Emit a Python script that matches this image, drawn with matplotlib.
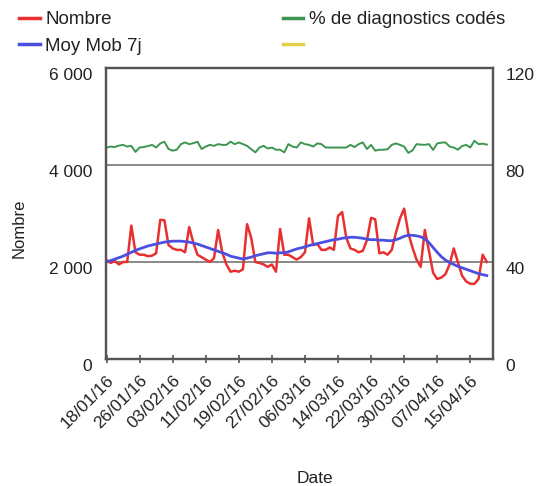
import matplotlib
matplotlib.use("Agg")
import matplotlib.pyplot as plt
import matplotlib.dates as mdates
from matplotlib.lines import Line2D
from matplotlib.ticker import FuncFormatter
import pandas as pd

plt.rcParams['font.family'] = ['Liberation Sans', 'DejaVu Sans']

# daily series, 18/01/16 onwards
start_date = "2016-01-18"
nombre = [
    2040, 1980, 2020, 1950, 2000, 2000, 2750, 2200, 2150, 2150,
    2120, 2130, 2180, 2870, 2860, 2350, 2280, 2250, 2250, 2200,
    2720, 2400, 2150, 2100, 2050, 2000, 2080, 2660, 2200, 1950,
    1800, 1820, 1800, 1850, 2780, 2500, 2000, 1980, 1950, 1900,
    1950, 1800, 2680, 2150, 2150, 2100, 2050, 2100, 2200, 2900,
    2350, 2370, 2250, 2250, 2300, 2250, 2950, 3030, 2500, 2280,
    2250, 2200, 2230, 2450, 2910, 2880, 2180, 2200, 2150, 2250,
    2600, 2900, 3100, 2600, 2300, 2050, 1900, 2660, 2230, 1780,
    1650, 1680, 1750, 1950, 2280, 2000, 1720, 1600, 1550, 1550,
    1650, 2150, 2000,
]
moy_mob_7j = [
    2000, 2030, 2060, 2090, 2120, 2160, 2200, 2240, 2270, 2300,
    2330, 2350, 2370, 2390, 2410, 2420, 2430, 2430, 2430, 2420,
    2410, 2390, 2370, 2340, 2310, 2280, 2250, 2220, 2190, 2160,
    2120, 2100, 2080, 2060, 2080, 2100, 2130, 2150, 2170, 2190,
    2190, 2180, 2190, 2190, 2210, 2240, 2270, 2290, 2310, 2340,
    2360, 2380, 2400, 2420, 2440, 2460, 2470, 2490, 2500, 2510,
    2510, 2500, 2490, 2470, 2460, 2460, 2450, 2450, 2440, 2440,
    2460, 2490, 2530, 2550, 2550, 2540, 2520, 2480, 2400, 2300,
    2200, 2110, 2040, 1990, 1950, 1910, 1880, 1850, 1820, 1790,
    1760, 1740, 1720,
]
pct_codes = [
    87.2, 87.6, 87.4, 88.0, 88.3, 87.6, 87.9, 85.4, 87.2, 87.4,
    87.8, 88.3, 87.2, 88.9, 89.6, 86.6, 85.9, 86.3, 88.6, 89.3,
    88.6, 89.0, 89.6, 86.6, 87.6, 88.3, 87.9, 88.6, 88.3, 88.3,
    89.6, 88.6, 89.3, 88.6, 87.9, 86.5, 85.2, 87.2, 87.9, 86.8,
    87.2, 86.3, 86.3, 85.2, 88.6, 87.6, 87.2, 89.3, 88.6, 88.3,
    87.6, 88.9, 88.6, 87.2, 87.2, 87.2, 87.2, 87.2, 87.2, 88.3,
    87.4, 88.6, 89.3, 86.6, 88.3, 85.9, 86.3, 86.3, 86.5, 88.3,
    88.9, 88.3, 87.6, 85.0, 86.0, 88.6, 88.4, 88.3, 88.6, 86.2,
    88.9, 89.2, 89.3, 87.6, 87.2, 86.3, 87.8, 88.3, 87.2, 90.0,
    88.6, 88.8, 88.4,
]
left_ticks = [0, 2000, 4000, 6000]
right_ticks = [0, 40, 80, 120]

RED = '#e8312f'
BLUE = '#4b4fe0'
GREEN = '#3c9650'
YELLOW = '#e3d04c'
FRAME = '#555555'
TXT = '#222222'

dates = pd.date_range(start_date, periods=len(nombre), freq='D')

fig = plt.figure(figsize=(5.37, 4.86), dpi=100)
ax = fig.add_axes([0.1974, 0.2613, 0.7207, 0.5988])
ax2 = ax.twinx()

# grille horizontale
for v in [2000, 4000]:
    ax.axhline(v, color='#808080', linewidth=1.3, zorder=1)

ax.plot(dates, nombre, color=RED, linewidth=1.8, zorder=3)
ax.plot(dates, moy_mob_7j, color=BLUE, linewidth=2.0, zorder=4)
ax2.plot(dates, pct_codes, color=GREEN, linewidth=1.4)

ax.set_ylim(0, 6000)
ax2.set_ylim(0, 120)
ax.set_yticks(left_ticks)
ax2.set_yticks(right_ticks)
ax.yaxis.set_major_formatter(FuncFormatter(lambda v, p: f"{int(v):,}".replace(",", " ")))

ax.set_xlim(dates[0] - pd.Timedelta(hours=3), dates[0] + pd.Timedelta(days=93.5))
ax.set_xticks(dates[::8])
ax.xaxis.set_major_formatter(mdates.DateFormatter('%d/%m/%y'))

for a in (ax, ax2):
    for s in a.spines.values():
        s.set_color(FRAME)
        s.set_linewidth(1.6)

ax.tick_params(axis='x', direction='inout', length=6, width=1.2, color=FRAME,
               labelsize=12.5, labelcolor=TXT, pad=7)
ax.tick_params(axis='y', length=0, pad=10, labelsize=12.5, labelcolor=TXT)
ax2.tick_params(axis='y', length=0, pad=9, labelsize=12.5, labelcolor=TXT)
plt.setp(ax.get_xticklabels(), rotation=45, ha='right', rotation_mode='anchor')
plt.setp(ax.get_yticklabels(), va='top')
plt.setp(ax2.get_yticklabels(), va='top')

ax.set_ylabel('Nombre', fontsize=12, color=TXT)
ax.yaxis.set_label_coords(-0.205, 0.45)
ax.set_xlabel('Date', fontsize=12.5, color=TXT)
ax.xaxis.set_label_coords(0.54, -0.385)

handles = [Line2D([], [], color=RED, linewidth=2.5),
           Line2D([], [], color=BLUE, linewidth=2.5),
           Line2D([], [], color=GREEN, linewidth=2.5),
           Line2D([], [], color=YELLOW, linewidth=2.5)]
labels = ['Nombre', 'Moy Mob 7j', '% de diagnostics codés', '']
fig.legend(handles, labels, ncol=2, loc='upper left', bbox_to_anchor=(0.004, 1.012),
           frameon=False, fontsize=13.5, handlelength=1.1, handletextpad=0.3,
           columnspacing=7.5, labelspacing=0.5, labelcolor=TXT)

fig.savefig('out.png', dpi=100)
